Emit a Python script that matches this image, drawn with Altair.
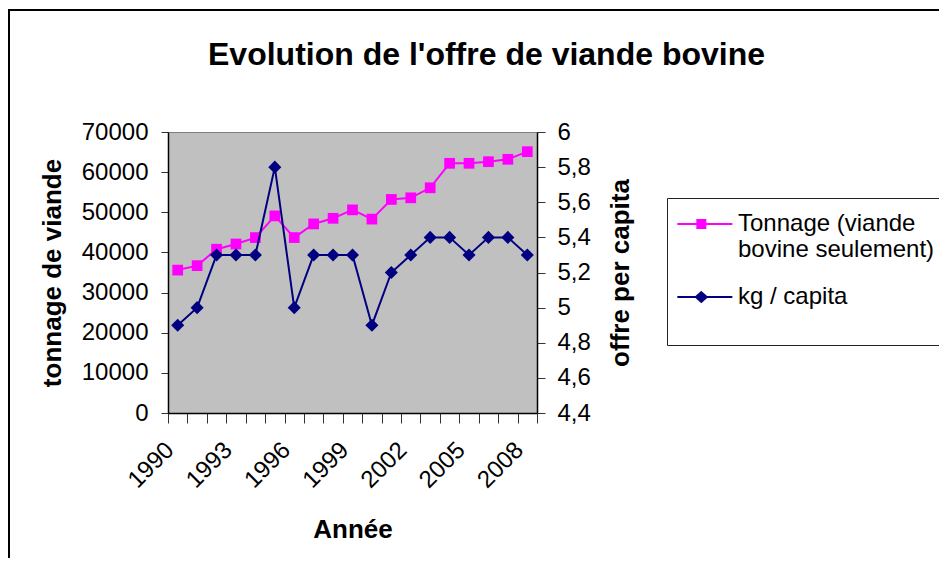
import altair as alt
import pandas as pd

# ---- data ----
years = [1990, 1991, 1992, 1993, 1994, 1995, 1996, 1997, 1998, 1999,
         2000, 2001, 2002, 2003, 2004, 2005, 2006, 2007, 2008]
tonnage = [35600, 36700, 40800, 42100, 43700, 49100, 43700, 47100, 48500, 50600,
           48300, 53200, 53600, 56100, 62200, 62200, 62600, 63200, 65100]
kg_capita = [4.9, 5.0, 5.3, 5.3, 5.3, 5.8, 5.0, 5.3, 5.3, 5.3,
             4.9, 5.2, 5.3, 5.4, 5.4, 5.3, 5.4, 5.4, 5.3]

left_ticks = [0, 10000, 20000, 30000, 40000, 50000, 60000, 70000]
right_ticks = [4.4, 4.6, 4.8, 5.0, 5.2, 5.4, 5.6, 5.8, 6.0]
shown_years = [1990, 1993, 1996, 1999, 2002, 2005, 2008]

series_names = ["Tonnage (viande bovine seulement)", "kg / capita"]
series_colors = ["#FF00FF", "#000080"]

title_text = "Evolution de l'offre de viande bovine"
FONT = "Liberation Sans"

df = pd.DataFrame({"year": years, "tonnage": tonnage, "kg": kg_capita})
legend_df = pd.DataFrame({"serie": series_names, "year": [years[0], years[0]],
                          "tonnage": [tonnage[0], tonnage[0]]})

shown_expr = "indexof([" + ",".join(str(y) for y in shown_years) + "], datum.value) >= 0 ? datum.value : ''"

x_enc = alt.X(
    "year:O",
    scale=alt.Scale(paddingInner=0, paddingOuter=0),
    axis=alt.Axis(
        title="Année", titleFontSize=26, titleFontWeight="bold", titleFont=FONT,
        titleY=124, titleBaseline="alphabetic", titleColor="black",
        labelExpr=shown_expr, labelAngle=315, labelAlign="right", labelBaseline="middle",
        labelFontSize=24, labelFont=FONT, labelColor="black", labelOverlap=False,
        labelPadding=23, labelOffset=-8,
        tickBand="extent", tickSize=10, tickColor="#333333", tickWidth=1,
        domainColor="black", domainWidth=1.5, grid=False,
    ),
)

y_left = alt.Y(
    "tonnage:Q",
    scale=alt.Scale(domain=[0, 70000], nice=False, zero=False),
    axis=alt.Axis(
        orient="left", values=left_ticks, format="d",
        title="tonnage de viande", titleFontSize=26, titleFontWeight="bold", titleFont=FONT,
        titleAngle=270, titleX=-108, titleY=140.5, titleAlign="center",
        titleBaseline="alphabetic", titleColor="black",
        labelFontSize=24, labelFont=FONT, labelColor="black", labelPadding=13,
        tickSize=7, tickColor="#333333", domainColor="black", domainWidth=1.5, grid=False,
    ),
)

y_right = alt.Y(
    "kg:Q",
    scale=alt.Scale(domain=[4.4, 6.0], nice=False, zero=False),
    axis=alt.Axis(
        orient="right", values=right_ticks,
        labelExpr="replace(format(datum.value, '.1~f'), '.', ',')",
        title="offre per capita", titleFontSize=26, titleFontWeight="bold", titleFont=FONT,
        titleAngle=270, titleX=91, titleY=140.5, titleAlign="center",
        titleBaseline="alphabetic", titleColor="black",
        labelFontSize=24, labelFont=FONT, labelColor="black", labelPadding=12,
        tickSize=8, tickColor="#333333", domainColor="black", domainWidth=1.5, grid=False,
    ),
)

base = alt.Chart(df)

t_line = base.mark_line(color=series_colors[0], strokeWidth=2).encode(x=x_enc, y=y_left)
t_pts = base.mark_point(shape="square", filled=True, size=115, opacity=1,
                        color=series_colors[0]).encode(x=x_enc, y=y_left)

# legend symbols: a line with a solid marker drawn by strokes (unit = 16 px)
sym_square = ("M-0.98,0H2.46"
              "M0.27,-0.25H0.77V0.25H0.27Z"
              "M0.27,-0.125H0.77M0.27,0.125H0.77")
sym_diamond = ("M-0.98,0H2.46"
               "M0.52,-0.3L0.86,0L0.52,0.3L0.18,0Z"
               "M0.25,-0.0625H0.79M0.25,0.0625H0.79"
               "M0.39,-0.1875H0.65M0.39,0.1875H0.65")

label_expr = ("datum.label == 'Tonnage (viande bovine seulement)' ? "
              "['Tonnage (viande', 'bovine seulement)'] : datum.label")

legend_layer = alt.Chart(legend_df).mark_point(filled=False, opacity=0).encode(
    x=x_enc,
    y=y_left,
    stroke=alt.Stroke(
        "serie:N",
        scale=alt.Scale(domain=series_names, range=series_colors),
        legend=alt.Legend(
            title=" ", titleOrient="bottom", titleFontSize=22, titlePadding=6,
            orient="none", legendX=499, legendY=66,
            padding=9, strokeColor="#222222", fillColor="white",
            symbolSize=1024, symbolStrokeWidth=2, symbolOpacity=1,
            labelFont=FONT, labelFontSize=24, labelColor="black", labelLimit=400,
            labelOffset=28, labelExpr=label_expr, labelBaseline="middle",
            rowPadding=18,
        ),
    ),
    shape=alt.Shape(
        "serie:N",
        scale=alt.Scale(domain=series_names, range=[sym_square, sym_diamond]),
    ),
)

k_line = base.mark_line(color=series_colors[1], strokeWidth=2).encode(x=x_enc, y=y_right)
k_pts = base.mark_point(shape="diamond", filled=True, size=170, opacity=1,
                        color=series_colors[1]).encode(x=x_enc, y=y_right)

left = alt.layer(t_line, t_pts, legend_layer)
right = alt.layer(k_line, k_pts)

border = alt.Chart(pd.DataFrame({"k": [0]})).mark_rect(
    fillOpacity=0, stroke="black", strokeWidth=2
).encode(
    x=alt.value(-159), x2=alt.value(800), y=alt.value(-122), y2=alt.value(454)
)

chart = alt.layer(border, left, right).resolve_scale(y="independent").properties(
    width=369,
    height=281,
    padding={"left": 160, "top": 124, "right": 402, "bottom": 145},
    autosize=alt.AutoSizeParams(type="none"),
    background="white",
    title=alt.TitleParams(
        text=title_text, font=FONT, fontSize=32, fontWeight="bold", color="black",
        anchor="middle", frame="group", dx=134, dy=88, offset=0, baseline="alphabetic",
    ),
).configure_view(fill="#C0C0C0", stroke="#808080", strokeWidth=1)

chart.save("out.html", embed_options={"renderer": "svg", "actions": False})
